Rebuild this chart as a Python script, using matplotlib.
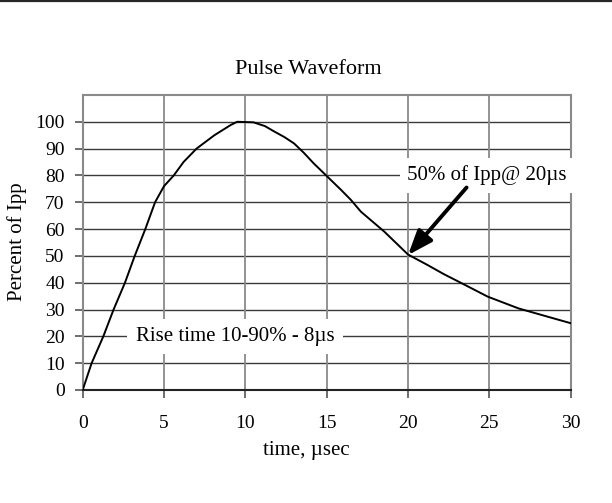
import numpy as np
import matplotlib
matplotlib.use("Agg")
import matplotlib.pyplot as plt
from matplotlib.lines import Line2D

plt.rcParams['font.family'] = ['Liberation Serif', 'DejaVu Serif']

# time in microseconds, current in percent of Ipp
t_us = [0, 0.55, 1.27, 1.9, 2.6, 3.2, 3.85, 4.45, 5.0, 5.6, 6.2, 7.0, 8.1,
        9.1, 9.5, 10.5, 11.2, 11.8, 12.4, 13.0, 13.6, 14.2, 15.0, 15.9,
        16.5, 17.1, 18.55, 20.0, 21.2, 22.2, 23.3, 24.9, 26.8, 28.6, 30.0]
pct_ipp = [0, 10, 20, 30, 40, 50, 60, 70, 76, 80, 85, 90, 95,
           98.8, 100, 99.8, 98.4, 96.3, 94.3, 91.9, 88.4, 84.5, 79.8, 74.5,
           70.8, 66.5, 59, 50.5, 46.6, 43.2, 39.8, 34.8, 30.4, 27.3, 24.9]

x_ticks = [0, 5, 10, 15, 20, 25, 30]
y_ticks = [0, 10, 20, 30, 40, 50, 60, 70, 80, 90, 100]

fig = plt.figure(figsize=(6.12, 5.03), dpi=100)
ax = fig.add_axes([0.1351, 0.2247, 0.7974, 0.5865])

# grid: dark horizontals, grey verticals
for yv in y_ticks[1:]:
    ax.axhline(yv, color='#3a3a3a', lw=1.0, zorder=1)
for xv in x_ticks[1:-1]:
    ax.axvline(xv, color='#8a8a8a', lw=1.3, zorder=1)

ax.plot(t_us, pct_ipp, color='black', lw=1.4, zorder=3)

ax.set_xlim(0, 30)
ax.set_ylim(0, 110)
ax.set_xticks(x_ticks)
ax.set_yticks(y_ticks)
ax.tick_params(axis='both', direction='out', length=6, width=1.2,
               color='#555555', labelsize=14)
ax.tick_params(axis='x', pad=12)
ax.tick_params(axis='y', pad=7)

for side in ['left', 'right', 'top']:
    ax.spines[side].set_color('#8a8a8a')
    ax.spines[side].set_linewidth(1.5)
ax.spines['bottom'].set_color('#222222')
ax.spines['bottom'].set_linewidth(1.5)

ax.text(9.37, 20, 'Rise time 10-90% - 8\u00b5s', fontsize=15, ha='center',
        va='center', zorder=4,
        bbox=dict(boxstyle='square,pad=0.4', fc='white', ec='none'))
ax.text(24.83, 80, '50% of Ipp@ 20\u00b5s', fontsize=15, ha='center',
        va='center', zorder=4,
        bbox=dict(boxstyle='square,pad=0.35', fc='white', ec='none'))
ax.annotate('', xy=(20, 50.3), xytext=(23.6, 75.5),
            arrowprops=dict(arrowstyle='-|>,head_length=1.0,head_width=0.38',
                            mutation_scale=15, lw=2.8, color='black',
                            shrinkA=0, shrinkB=0), zorder=5)

fig.text(0.503, 0.862, 'Pulse Waveform', fontsize=16, ha='center', va='center')
fig.text(0.028, 0.52, 'Percent of Ipp', fontsize=15, rotation=90,
         ha='center', va='center')
fig.text(0.5, 0.105, 'time, \u00b5sec', fontsize=15, ha='center', va='center')

# dark rule along the top of the page
fig.add_artist(Line2D([0, 1], [0.998, 0.998], transform=fig.transFigure,
                      color='#2a2626', lw=1.6))

fig.savefig('out.png', dpi=100)
